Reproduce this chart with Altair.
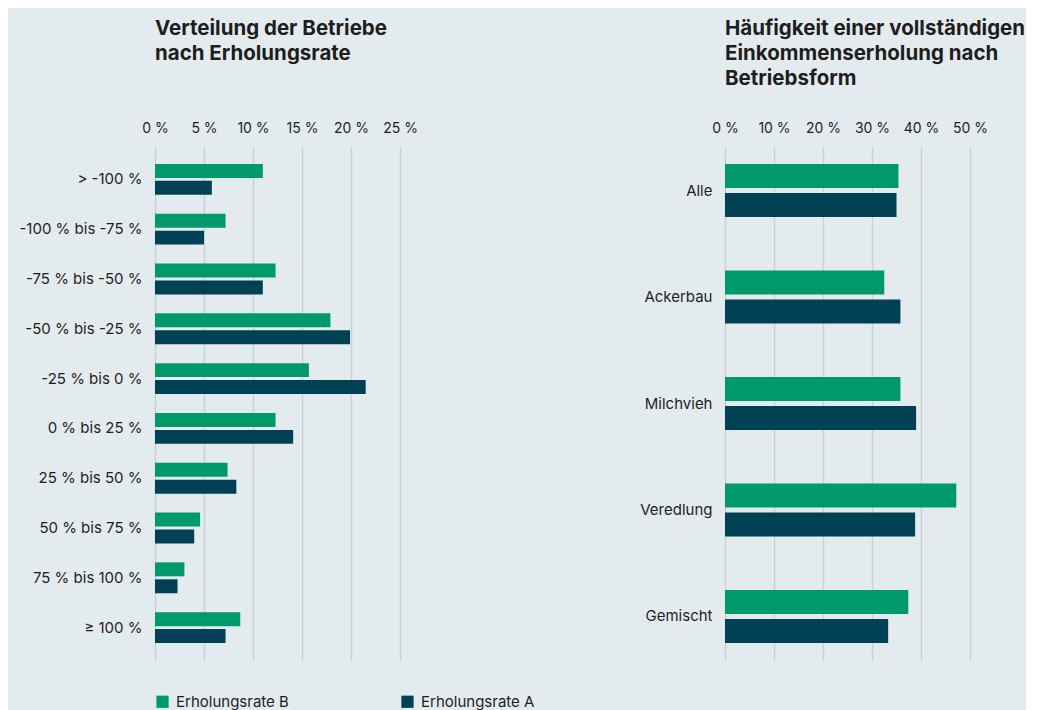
import altair as alt
import pandas as pd

left_categories = ["> -100 %", "-100 % bis -75 %", "-75 % bis -50 %", "-50 % bis -25 %",
                   "-25 % bis 0 %", "0 % bis 25 %", "25 % bis 50 %", "50 % bis 75 %",
                   "75 % bis 100 %", "≥ 100 %"]
left_b = [11.0, 7.2, 12.3, 17.9, 15.7, 12.3, 7.4, 4.6, 3.0, 8.7]
left_a = [5.8, 5.0, 11.0, 19.9, 21.5, 14.1, 8.3, 4.0, 2.3, 7.2]
left_ticks = [0, 5, 10, 15, 20, 25]

right_categories = ["Alle", "Ackerbau", "Milchvieh", "Veredlung", "Gemischt"]
right_b = [35.4, 32.5, 35.8, 47.2, 37.4]
right_a = [35.0, 35.8, 39.0, 38.8, 33.3]
right_ticks = [0, 10, 20, 30, 40, 50]

series = ["Erholungsrate B", "Erholungsrate A"]
colors = ["#00996a", "#004254"]

left_title = ["Verteilung der Betriebe", "nach Erholungsrate"]
right_title = ["Häufigkeit einer vollständigen", "Einkommenserholung nach", "Betriebsform"]

FONT = "Inter"
TXT = "#1e1e1e"


def long_df(cats, b, a):
    rows = []
    for c, vb, va in zip(cats, b, a):
        rows.append({"cat": c, "series": series[0], "value": vb})
        rows.append({"cat": c, "series": series[1], "value": va})
    return pd.DataFrame(rows)


df_left = long_df(left_categories, left_b, left_a)
df_right = long_df(right_categories, right_b, right_a)

color = alt.Color(
    "series:N",
    sort=series,
    scale=alt.Scale(domain=series, range=colors),
    legend=alt.Legend(
        title=None, orient="none", legendX=0, legendY=548, direction="horizontal",
        columns=2, columnPadding=111, symbolType="square", symbolSize=150,
        symbolStrokeWidth=0, labelFontSize=15, labelFont=FONT, labelColor=TXT,
        labelOffset=6,
    ),
)


def panel(df, cats, ticks, dmax, pi, po, sub_pi, extent, title, title_offset):
    return alt.Chart(df).mark_bar().encode(
        y=alt.Y("cat:N", sort=cats,
                scale=alt.Scale(paddingInner=pi, paddingOuter=po),
                axis=alt.Axis(title=None, ticks=False, domain=False, grid=False,
                              labelPadding=13, minExtent=extent, maxExtent=extent,
                              labelFontSize=15, labelFont=FONT, labelColor=TXT)),
        yOffset=alt.YOffset("series:N", sort=series,
                            scale=alt.Scale(paddingInner=sub_pi)),
        x=alt.X("value:Q", scale=alt.Scale(domain=[0, dmax], nice=False),
                axis=alt.Axis(orient="top", values=ticks, labelExpr="datum.value + ' %'",
                              labelOverlap=False, labelFlush=False,
                              ticks=False, domain=False, title=None, grid=True,
                              gridColor="#c8d1d5", gridWidth=1.5, labelPadding=11,
                              labelFontSize=14, labelFont=FONT, labelColor=TXT)),
        color=color,
    ).properties(
        width=245, height=515,
        title=alt.TitleParams(text=title, anchor="start", frame="group", fontSize=20.5,
                              fontWeight="bold", lineHeight=25, font=FONT, color=TXT,
                              offset=title_offset),
    )


left = panel(df_left, left_categories, left_ticks, 25, 0.38, 0.36, 0.176, 142, left_title, 57)
right = panel(df_right, right_categories, right_ticks, 50, 0.502, 0.169, 0.172, 105, right_title, 32)

chart = alt.hconcat(left, right, spacing=202).resolve_scale(
    y="independent", yOffset="independent", x="independent"
).properties(
    background="#e4ebee",
    padding={"left": 5, "top": 10, "right": 0, "bottom": 5},
).configure_view(stroke=None)

chart.save("out.html", embed_options={"renderer": "svg", "actions": False})
